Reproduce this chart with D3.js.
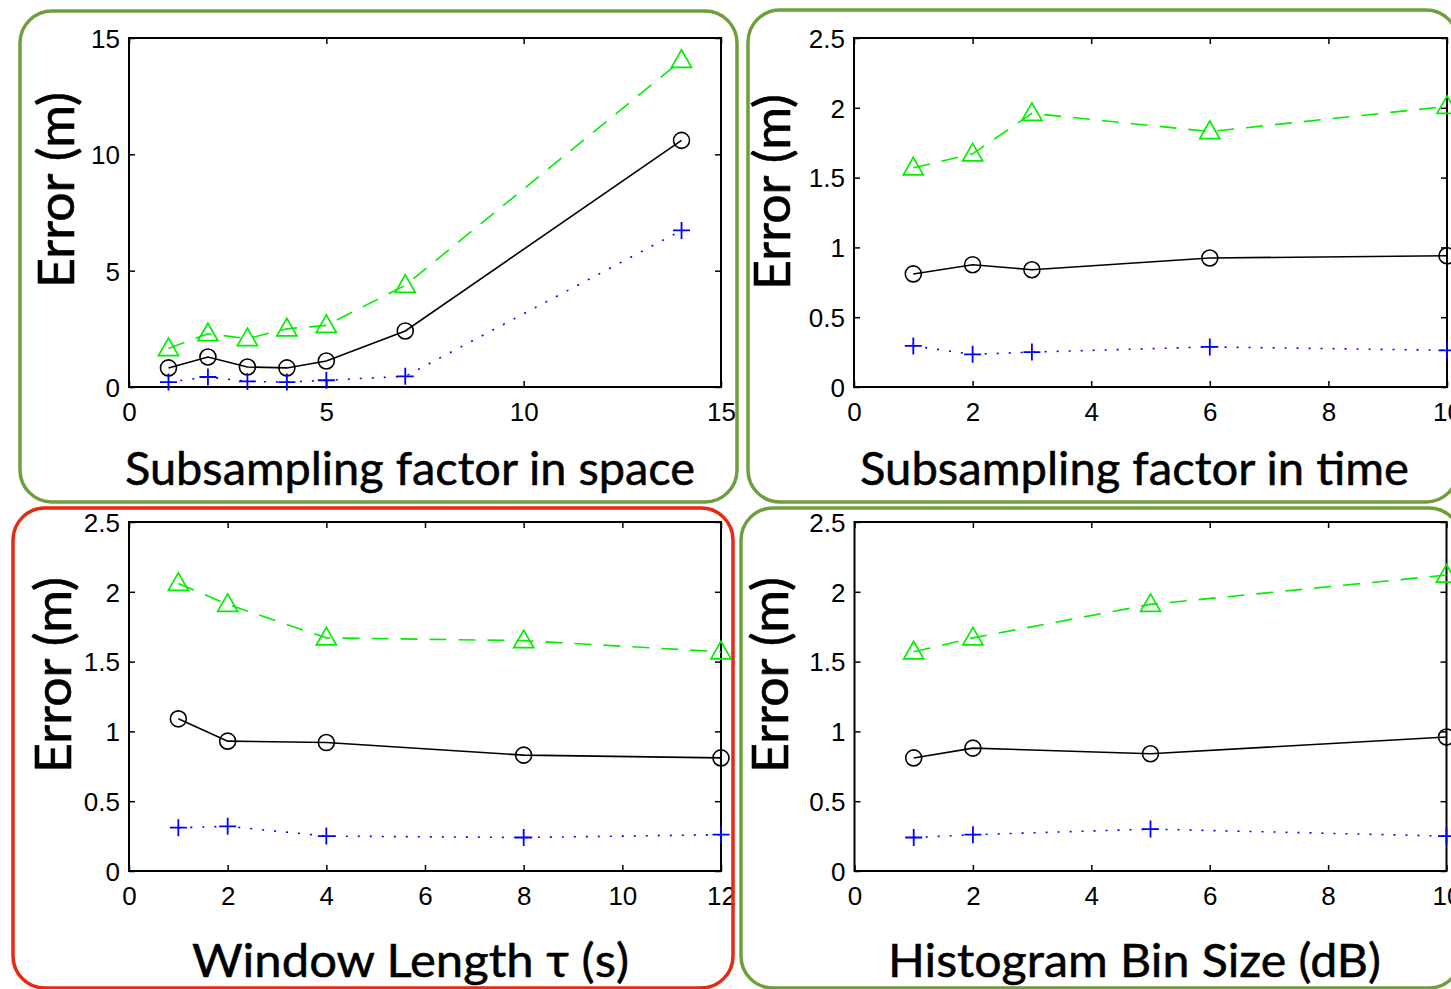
<!DOCTYPE html>
<html>
<head>
<meta charset="utf-8">
<script src="https://cdn.jsdelivr.net/npm/d3@7"></script>
<style>
  body { margin: 0; background: #fff; overflow: hidden; }
  svg { display: block; }
</style>
</head>
<body>
<script>
// data
var spaceX = [1, 2, 3, 4, 5, 7, 14];
var spaceTri = [1.65, 2.29, 2.08, 2.5, 2.65, 4.37, 14.04];
var spaceCirc = [0.82, 1.29, 0.86, 0.82, 1.12, 2.41, 10.6];
var spacePlus = [0.21, 0.43, 0.24, 0.21, 0.29, 0.46, 6.73];

var timeX = [1, 2, 3, 6, 10];
var timeTri = [1.57, 1.67, 1.96, 1.83, 2.01];
var timeCirc = [0.81, 0.876, 0.84, 0.924, 0.94];
var timePlus = [0.294, 0.234, 0.25, 0.287, 0.263];

var windowX = [1, 2, 4, 8, 12];
var windowTri = [2.06, 1.91, 1.67, 1.65, 1.57];
var windowCirc = [1.09, 0.93, 0.92, 0.83, 0.81];
var windowPlus = [0.31, 0.32, 0.25, 0.24, 0.26];

var binX = [1, 2, 5, 10];
var binTri = [1.57, 1.67, 1.91, 2.12];
var binCirc = [0.81, 0.88, 0.84, 0.96];
var binPlus = [0.24, 0.26, 0.30, 0.25];

var spaceTicks = [0, 5, 10, 15];
var tenTicks = [0, 2, 4, 6, 8, 10];
var twelveTicks = [0, 2, 4, 6, 8, 10, 12];
var errTicks = [0, 0.5, 1, 1.5, 2, 2.5];

var yTitle = "Error (m)";
var xTitles = ["Subsampling factor in space", "Subsampling factor in time",
               "Window Length \u03c4 (s)", "Histogram Bin Size (dB)"];

var width = 1451, height = 989;
var svg = d3.select("body").append("svg")
    .attr("width", width)
    .attr("height", height);

var panels = [
  { box: [20, 11, 717, 491], frame: "#6f9f3c",
    plot: [129, 721, 38, 387], xdom: [0, 15], xt: spaceTicks, ydom: [0, 15], yt: spaceTicks,
    xs: spaceX, tri: spaceTri, circ: spaceCirc, plus: spacePlus,
    yl: [74, 190], xl: [125, 695, 485], title: xTitles[0] },
  { box: [748, 10, 710, 492], frame: "#6f9f3c",
    plot: [854, 1447, 38, 387], xdom: [0, 10], xt: tenTicks, ydom: [0, 2.5], yt: errTicks,
    xs: timeX, tri: timeTri, circ: timeCirc, plus: timePlus,
    yl: [790, 192], xl: [860, 1409, 485], title: xTitles[1] },
  { box: [13, 508, 720, 480], frame: "#e6290f",
    plot: [129, 721, 522, 871], xdom: [0, 12], xt: twelveTicks, ydom: [0, 2.5], yt: errTicks,
    xs: windowX, tri: windowTri, circ: windowCirc, plus: windowPlus,
    yl: [71, 675], xl: [192, 629, 977], title: xTitles[2] },
  { box: [741, 508, 720, 480], frame: "#6f9f3c",
    plot: [854.5, 1446.5, 522, 871], xdom: [0, 10], xt: tenTicks, ydom: [0, 2.5], yt: errTicks,
    xs: binX, tri: binTri, circ: binCirc, plus: binPlus,
    yl: [788, 675], xl: [888, 1381, 977], title: xTitles[3] }
];

function fmt(v){ return String(v); }

panels.forEach(function(p){
  var g = svg.append("g");
  var l = p.plot[0], r = p.plot[1], t = p.plot[2], b = p.plot[3];
  var x = d3.scaleLinear().domain(p.xdom).range([l, r]);
  var y = d3.scaleLinear().domain(p.ydom).range([b, t]);

  // axes (matlab style, ticks inside on all sides)
  var tl = 6;
  g.append("g").attr("transform", `translate(0,${b})`)
    .call(d3.axisBottom(x).tickValues(p.xt).tickSize(-tl).tickFormat(fmt).tickPadding(16))
    .call(function(a){
      a.select(".domain").remove();
      a.selectAll("line").attr("stroke", "#000").attr("stroke-width", 1.5);
      a.selectAll("text").attr("font-family", "Liberation Sans, Arial, sans-serif")
        .attr("font-size", 26).attr("fill", "#000");
    });
  g.append("g").attr("transform", `translate(0,${t})`)
    .call(d3.axisTop(x).tickValues(p.xt).tickSize(-tl).tickFormat(""))
    .call(function(a){
      a.select(".domain").remove();
      a.selectAll("line").attr("stroke", "#000").attr("stroke-width", 1.5);
    });
  g.append("g").attr("transform", `translate(${l},0)`)
    .call(d3.axisLeft(y).tickValues(p.yt).tickSize(-tl).tickFormat(fmt).tickPadding(9))
    .call(function(a){
      a.select(".domain").remove();
      a.selectAll("line").attr("stroke", "#000").attr("stroke-width", 1.5);
      a.selectAll("text").attr("font-family", "Liberation Sans, Arial, sans-serif")
        .attr("font-size", 26).attr("fill", "#000").attr("dy", "0.36em");
    });
  g.append("g").attr("transform", `translate(${r},0)`)
    .call(d3.axisRight(y).tickValues(p.yt).tickSize(-tl).tickFormat(""))
    .call(function(a){
      a.select(".domain").remove();
      a.selectAll("line").attr("stroke", "#000").attr("stroke-width", 1.5);
    });
  g.append("rect")
    .attr("x", l).attr("y", t).attr("width", r - l).attr("height", b - t)
    .attr("fill", "none").attr("stroke", "#000").attr("stroke-width", 2);

  var line = d3.line().x(function(d){ return x(d[0]); }).y(function(d){ return y(d[1]); });
  var tri = p.xs.map(function(v, i){ return [v, p.tri[i]]; });
  var circ = p.xs.map(function(v, i){ return [v, p.circ[i]]; });
  var plus = p.xs.map(function(v, i){ return [v, p.plus[i]]; });

  g.append("path").datum(tri).attr("d", line)
    .attr("fill", "none").attr("stroke", "#00ee00").attr("stroke-width", 1.6)
    .attr("stroke-dasharray", "17,12");
  g.append("path").datum(circ).attr("d", line)
    .attr("fill", "none").attr("stroke", "#000").attr("stroke-width", 1.6);
  g.append("path").datum(plus).attr("d", line)
    .attr("fill", "none").attr("stroke", "#0000ff").attr("stroke-width", 1.6)
    .attr("stroke-dasharray", "2,10");

  g.selectAll(".tri").data(tri).enter().append("path")
    .attr("d", function(d){
      var cx = x(d[0]), cy = y(d[1]);
      return `M${cx},${cy - 10.5}L${cx + 10},${cy + 7}L${cx - 10},${cy + 7}Z`;
    })
    .attr("fill", "none").attr("stroke", "#00ee00").attr("stroke-width", 1.7);
  g.selectAll(".circ").data(circ).enter().append("circle")
    .attr("cx", function(d){ return x(d[0]); })
    .attr("cy", function(d){ return y(d[1]); })
    .attr("r", 8)
    .attr("fill", "none").attr("stroke", "#000").attr("stroke-width", 1.6);
  g.selectAll(".plus").data(plus).enter().append("path")
    .attr("d", function(d){
      var cx = x(d[0]), cy = y(d[1]);
      return `M${cx - 8.5},${cy}H${cx + 8.5}M${cx},${cy - 8.5}V${cy + 8.5}`;
    })
    .attr("fill", "none").attr("stroke", "#0000ff").attr("stroke-width", 1.8);

  // titles
  g.append("text")
    .attr("transform", `translate(${p.yl[0]},${p.yl[1]}) rotate(-90)`)
    .attr("text-anchor", "middle")
    .attr("font-family", "Lato, 'Open Sans', sans-serif")
    .attr("font-size", 50)
    .attr("stroke", "#000").attr("stroke-width", 0.6)
    .attr("textLength", 196).attr("lengthAdjust", "spacingAndGlyphs")
    .text(yTitle);
  g.append("text")
    .attr("x", p.xl[0]).attr("y", p.xl[2])
    .attr("font-family", "Lato, 'Open Sans', sans-serif")
    .attr("font-size", 46)
    .attr("stroke", "#000").attr("stroke-width", 0.5)
    .attr("textLength", p.xl[1] - p.xl[0]).attr("lengthAdjust", "spacingAndGlyphs")
    .text(p.title);

  // rounded frame
  svg.append("rect")
    .attr("x", p.box[0]).attr("y", p.box[1])
    .attr("width", p.box[2]).attr("height", p.box[3])
    .attr("rx", 32).attr("ry", 32)
    .attr("fill", "none").attr("stroke", p.frame).attr("stroke-width", 3.5);
});
</script>
</body>
</html>
